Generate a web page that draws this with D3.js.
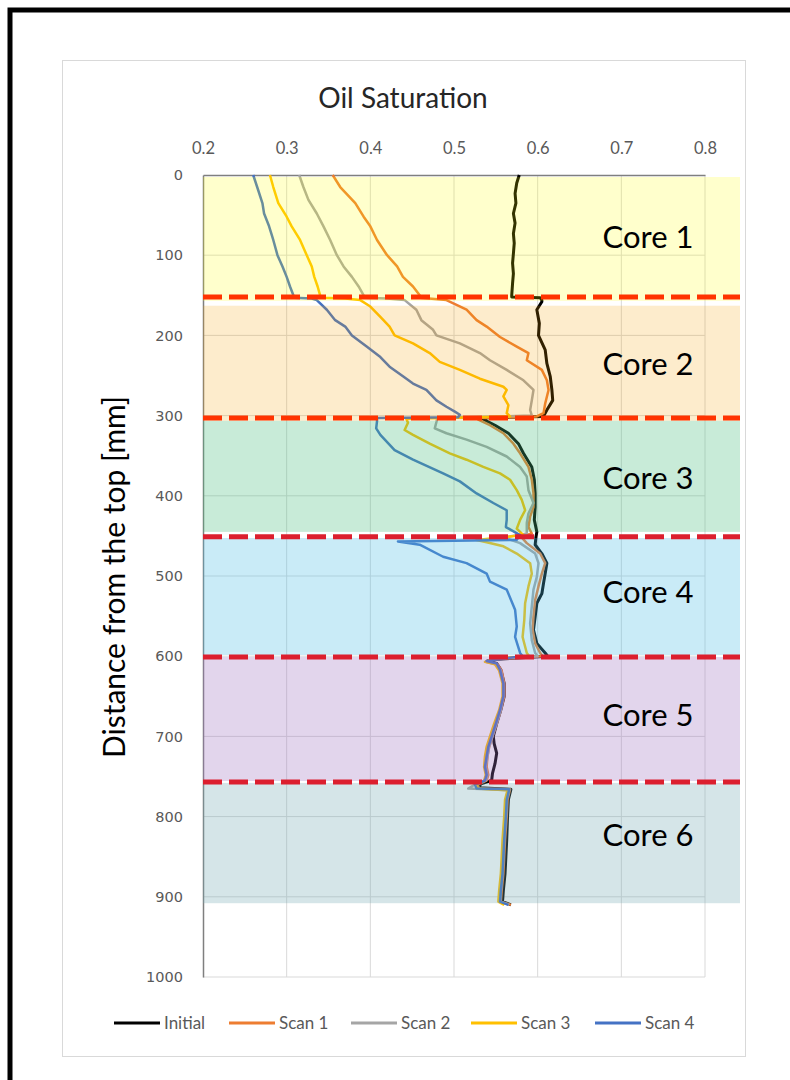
<!DOCTYPE html>
<html>
<head>
<meta charset="utf-8">
<script src="https://cdn.jsdelivr.net/npm/d3@7"></script>
<style>
  body { margin: 0; background: #fff; }
  svg { display: block; }
</style>
</head>
<body>
<svg id="chart" width="790" height="1080"></svg>
<script>
// Oil saturation profiles along the stacked core column: [depth mm, saturation]
const initial = [
  [0,0.578],[10,0.575],[23,0.573],[35,0.574],[48,0.571],[60,0.573],[73,0.571],[85,0.572],[98,0.571],
  [110,0.570],[123,0.571],[135,0.570],[150,0.569],[152,0.569],[153,0.603],[156,0.605],
  [158,0.605],[168,0.599],[185,0.602],[200,0.601],[218,0.609],[235,0.611],[251,0.615],[268,0.617],
  [281,0.618],[293,0.611],[301,0.607],[303,0.532],
  [312,0.549],[322,0.565],[335,0.577],[347,0.583],[364,0.593],[380,0.596],[397,0.597],[414,0.597],
  [430,0.596],[445,0.599],[451,0.598],
  [461,0.597],[472,0.605],[484,0.611],[497,0.609],[509,0.607],[522,0.605],[534,0.599],[551,0.597],
  [567,0.595],[584,0.599],[596,0.609],[600,0.612],[604,0.546],
  [606,0.540],[609,0.551],[617,0.556],[634,0.560],[650,0.560],[667,0.556],[684,0.551],[700,0.547],
  [709,0.548],[721,0.551],[734,0.549],[746,0.546],[755,0.545],[759,0.532],[764,0.530],[766,0.568],
  [779,0.565],[800,0.564],[829,0.563],[850,0.562],[871,0.561],[892,0.559],[906,0.558],[910,0.568]
];
const scan1 = [
  [0,0.355],[15,0.364],[35,0.382],[52,0.392],[64,0.400],[81,0.408],[100,0.420],[114,0.432],[127,0.439],
  [139,0.451],[150,0.459],[153,0.460],[154,0.470],[156,0.491],
  [168,0.515],[181,0.527],[189,0.539],[202,0.555],[214,0.575],[222,0.589],[231,0.587],[243,0.605],
  [256,0.611],[268,0.613],[285,0.609],[297,0.607],[301,0.599],[303,0.527],
  [305,0.529],[312,0.543],[322,0.559],[335,0.571],[347,0.579],[364,0.589],[380,0.593],[397,0.595],
  [414,0.595],[426,0.591],[439,0.589],[447,0.593],[451,0.580],
  [459,0.587],[472,0.603],[484,0.609],[497,0.605],[513,0.601],[530,0.597],[551,0.595],[567,0.594],
  [584,0.597],[596,0.603],[600,0.606],[604,0.545],
  [607,0.540],[610,0.552],[618,0.557],[634,0.560],[650,0.560],[667,0.556],[684,0.551],[700,0.546],
  [713,0.542],[725,0.540],[738,0.539],[748,0.541],[755,0.539],[760,0.528],[765,0.530],[766,0.567],
  [779,0.564],[800,0.563],[829,0.561],[850,0.560],[871,0.559],[892,0.557],[906,0.556],[910,0.568]
];
const scan2 = [
  [0,0.315],[15,0.320],[31,0.326],[48,0.336],[64,0.344],[81,0.352],[100,0.360],[114,0.368],[127,0.378],
  [139,0.386],[150,0.392],[153,0.393],[154,0.420],[156,0.441],
  [168,0.455],[181,0.461],[193,0.475],[200,0.479],[210,0.507],[222,0.531],[231,0.543],[243,0.563],
  [256,0.583],[268,0.595],[281,0.593],[293,0.591],[300,0.593],[303,0.480],
  [308,0.479],[316,0.477],[322,0.491],[330,0.515],[339,0.539],[351,0.563],[364,0.579],[376,0.587],
  [393,0.589],[409,0.595],[422,0.589],[434,0.587],[447,0.587],[452,0.560],
  [459,0.579],[472,0.597],[484,0.601],[501,0.599],[517,0.595],[538,0.593],[559,0.591],[580,0.593],
  [596,0.597],[600,0.600],[603,0.548],
  [607,0.538],[610,0.550],[618,0.556],[634,0.559],[650,0.559],[667,0.556],[684,0.551],[700,0.546],
  [713,0.542],[725,0.540],[738,0.538],[748,0.540],[755,0.538],[760,0.525],[765,0.517],[767,0.566],
  [779,0.563],[800,0.562],[829,0.560],[850,0.559],[871,0.558],[892,0.556],[906,0.555],[910,0.566]
];
const scan3 = [
  [0,0.280],[15,0.284],[35,0.290],[52,0.300],[64,0.306],[81,0.316],[100,0.324],[114,0.330],[127,0.333],
  [139,0.337],[150,0.340],[153,0.341],[154,0.370],[156,0.388],
  [164,0.400],[177,0.412],[189,0.423],[200,0.429],[210,0.451],[222,0.471],[233,0.483],[243,0.507],
  [254,0.531],[264,0.559],[268,0.563],[276,0.559],[287,0.565],[297,0.563],[301,0.567],[304,0.443],
  [309,0.445],[318,0.441],[324,0.451],[335,0.471],[347,0.495],[355,0.515],[364,0.535],[372,0.555],
  [380,0.567],[393,0.575],[405,0.581],[418,0.585],[430,0.579],[441,0.575],[449,0.583],[455,0.527],
  [458,0.539],[463,0.559],[472,0.575],[484,0.591],[497,0.593],[513,0.589],[534,0.585],[555,0.584],
  [576,0.582],[596,0.587],[600,0.590],[603,0.548],
  [607,0.537],[610,0.549],[618,0.554],[634,0.558],[650,0.558],[667,0.554],[684,0.548],[700,0.543],
  [713,0.539],[725,0.537],[738,0.536],[748,0.538],[755,0.536],[760,0.527],[765,0.528],[767,0.564],
  [779,0.561],[800,0.560],[829,0.558],[850,0.557],[871,0.556],[892,0.554],[906,0.553],[910,0.560]
];
const scan4 = [
  [0,0.260],[19,0.266],[35,0.271],[48,0.273],[64,0.279],[81,0.284],[100,0.289],[114,0.295],[127,0.300],
  [139,0.304],[150,0.308],[153,0.309],[154,0.330],[156,0.336],
  [168,0.348],[181,0.358],[189,0.370],[200,0.378],[214,0.396],[227,0.412],[239,0.423],[251,0.439],
  [260,0.451],[268,0.467],[281,0.479],[289,0.491],[295,0.501],[299,0.507],[302,0.505],[303,0.408],
  [307,0.408],[316,0.407],[324,0.412],[343,0.429],[355,0.451],[372,0.487],[382,0.507],[397,0.527],
  [409,0.547],[418,0.563],[430,0.563],[439,0.562],[443,0.569],[449,0.579],[455,0.575],[457,0.433],
  [461,0.459],[476,0.487],[484,0.515],[497,0.539],[507,0.543],[517,0.563],[542,0.573],[563,0.575],
  [576,0.573],[596,0.579],[600,0.582],[603,0.560],
  [606,0.539],[609,0.551],[617,0.555],[634,0.559],[650,0.559],[667,0.555],[684,0.550],[700,0.545],
  [713,0.541],[725,0.539],[738,0.537],[748,0.539],[755,0.537],[760,0.525],[765,0.527],[766,0.566],
  [779,0.563],[800,0.562],[829,0.560],[850,0.559],[871,0.558],[892,0.556],[906,0.555],[910,0.565]
];

const seriesNames = ["Initial", "Scan 1", "Scan 2", "Scan 3", "Scan 4"];
const seriesColors = ["#000000", "#ED7D31", "#A5A5A5", "#FFC000", "#4472C4"];
const seriesData = [initial, scan1, scan2, scan3, scan4];

const xTicks = [0.2, 0.3, 0.4, 0.5, 0.6, 0.7, 0.8];
const yTicks = [0, 100, 200, 300, 400, 500, 600, 700, 800, 900, 1000];

// Core sections: label, top and bottom depth (mm), label depth
const coreNames = ["Core 1", "Core 2", "Core 3", "Core 4", "Core 5", "Core 6"];
const coreTop = [2.5, 163, 306.5, 452.6, 601, 758];
const coreBottom = [157, 306.5, 445, 598.5, 755.6, 908];
const coreLabelDepth = [77, 236, 378, 520, 673, 823];
const coreTint = ["#FFFF00", "#F5A000", "#48BC7D", "#4BBCE4", "#9E73C0", "#73A8B2"];
const coreTintOpacity = [0.2, 0.2, 0.3, 0.3, 0.3, 0.3];
// Core joints (mm)
const jointDepth = [152, 303, 451, 601, 757];
const jointColor = ["#FF3300", "#FF3300", "#DC1F2E", "#DC1F2E", "#DC1F2E"];

const svg = d3.select("#chart");
const W = 790, H = 1080;
const plot = { left: 203, top: 175, right: 705, bottom: 977 };

const x = d3.scaleLinear().domain([0.2, 0.8]).range([plot.left, plot.right]);
const y = d3.scaleLinear().domain([0, 1000]).range([plot.top, plot.bottom]);

// Outer frame and chart box
svg.append("rect").attr("x", 10).attr("y", 10).attr("width", W + 20).attr("height", H + 20)
  .attr("fill", "#fff").attr("stroke", "#000").attr("stroke-width", 5);
svg.append("rect").attr("x", 62.5).attr("y", 60.5).attr("width", 683).attr("height", 996)
  .attr("fill", "#fff").attr("stroke", "#D9D9D9").attr("stroke-width", 1);

// Gridlines
const grid = svg.append("g").attr("class", "grid");
grid.selectAll("line.v").data(xTicks.slice(1)).join("line")
  .attr("x1", d => x(d)).attr("x2", d => x(d))
  .attr("y1", plot.top).attr("y2", plot.bottom)
  .attr("stroke", "#D9D9D9").attr("stroke-width", 1);
grid.selectAll("line.h").data(yTicks.slice(1)).join("line")
  .attr("x1", plot.left).attr("x2", plot.right)
  .attr("y1", d => y(d)).attr("y2", d => y(d))
  .attr("stroke", "#D9D9D9").attr("stroke-width", 1);

// Axes
const fontCal = "Lato, 'Open Sans', sans-serif";
const xAxis = svg.append("g").attr("transform", `translate(0,${plot.top})`)
  .call(d3.axisTop(x).tickValues(xTicks).tickSize(0).tickPadding(21).tickFormat(d3.format(".1f")));
xAxis.select(".domain").attr("stroke", "#7F7F7F").attr("stroke-width", 1.5);
xAxis.selectAll("text").attr("fill", "#595959").style("font-family", fontCal).style("font-size", "16.5px");

const yAxis = svg.append("g").attr("transform", `translate(${plot.left},0)`)
  .call(d3.axisLeft(y).tickValues(yTicks).tickSize(0).tickPadding(20).tickFormat(d3.format("d")));
yAxis.select(".domain").attr("stroke", "#7F7F7F").attr("stroke-width", 1.5);
yAxis.selectAll("text").attr("fill", "#595959").style("font-family", "'DejaVu Sans', sans-serif").style("font-size", "14.5px");

// Profiles
const line = d3.line().x(d => x(d[1])).y(d => y(d[0]));
svg.append("g").selectAll("path").data(seriesData).join("path")
  .attr("d", line)
  .attr("fill", "none")
  .attr("stroke", (d, i) => seriesColors[i])
  .attr("stroke-width", (d, i) => i === 0 ? 3 : 2.5)
  .attr("stroke-linejoin", "round");

// Core section tints laid over the profiles
const bandRight = plot.right + 35;
svg.append("g").selectAll("rect").data(coreNames).join("rect")
  .attr("x", plot.left)
  .attr("y", (d, i) => y(coreTop[i]))
  .attr("width", bandRight - plot.left)
  .attr("height", (d, i) => y(coreBottom[i]) - y(coreTop[i]))
  .attr("fill", (d, i) => coreTint[i])
  .attr("fill-opacity", (d, i) => coreTintOpacity[i]);

// Joints between cores
svg.append("g").selectAll("line").data(jointDepth).join("line")
  .attr("x1", plot.left).attr("x2", bandRight)
  .attr("y1", d => y(d)).attr("y2", d => y(d))
  .attr("stroke", (d, i) => jointColor[i])
  .attr("stroke-width", 5)
  .attr("stroke-dasharray", "19,7");

// Core labels
svg.append("g").selectAll("text").data(coreNames).join("text")
  .attr("x", 648)
  .attr("y", (d, i) => y(coreLabelDepth[i]) + 11)
  .attr("text-anchor", "middle")
  .style("font-family", fontCal).style("font-size", "31px")
  .attr("fill", "#000")
  .text(d => d);

// Titles
svg.append("text").attr("x", 403).attr("y", 108).attr("text-anchor", "middle")
  .style("font-family", fontCal).style("font-size", "28px").attr("fill", "#262626")
  .text("Oil Saturation");
svg.append("text")
  .attr("transform", "translate(125,577) rotate(-90)")
  .attr("text-anchor", "middle")
  .style("font-family", fontCal).style("font-size", "30px").attr("fill", "#000")
  .text("Distance from the top [mm]");

// Legend
const legendX = [114, 229, 351, 471, 595];
const leg = svg.append("g").selectAll("g").data(seriesNames).join("g")
  .attr("transform", (d, i) => `translate(${legendX[i]},1023)`);
leg.append("line").attr("x1", 0).attr("x2", 46).attr("y1", 0).attr("y2", 0)
  .attr("stroke", (d, i) => seriesColors[i]).attr("stroke-width", 3);
leg.append("text").attr("x", 50).attr("y", 6)
  .style("font-family", fontCal).style("font-size", "17px").attr("fill", "#595959")
  .text(d => d);
</script>
</body>
</html>
